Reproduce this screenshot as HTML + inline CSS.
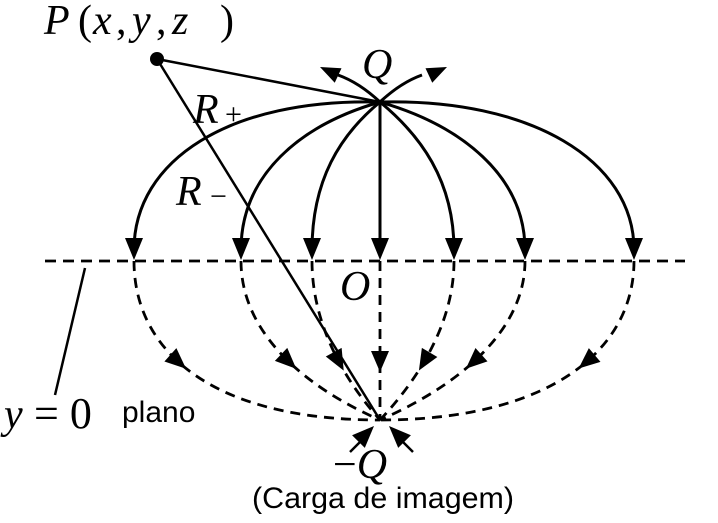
<!DOCTYPE html>
<html><head><meta charset="utf-8"><style>
html,body{margin:0;padding:0;background:#fff;width:718px;height:523px;overflow:hidden}
</style></head><body>
<svg id="s" width="718" height="523" viewBox="0 0 718 523" xmlns="http://www.w3.org/2000/svg">
<g fill="none" stroke="#000" stroke-width="3">
<line x1="45" y1="261" x2="685" y2="261" stroke-dasharray="11,7" stroke-width="2.8"/>
<path d="M380,102 C230,98 134,160 134,250"/>
<path d="M380,102 C300,125 241,175 241,250"/>
<path d="M380,102 C340,135 312,180 312,250"/>
<path d="M380,102 L380,250"/>
<path d="M380,102 C420,135 454,180 454,250"/>
<path d="M380,102 C460,125 525,175 525,250"/>
<path d="M380,102 C530,98 634,160 634,250"/>
<path d="M380,102 C365,88 352,80 338,75"/>
<path d="M380,102 C395,88 408,80 422,75"/>
</g>
<g id="dash" fill="none" stroke="#000" stroke-width="2.8" stroke-dasharray="10,7">
<path d="M134,261 C134,350 210,420 380,420"/>
<path d="M241,261 C241,330 300,385 380,420"/>
<path d="M312,261 C312,320 340,375 380,420"/>
<path d="M380,261 L380,420"/>
<path d="M454,261 C454,320 422,375 380,420"/>
<path d="M525,261 C525,330 460,385 380,420"/>
<path d="M634,261 C634,350 550,420 380,420"/>
</g>
<g fill="#000">
<polygon points="125,238 143,238 134,260"/>
<polygon points="232,238 250,238 241,260"/>
<polygon points="303,238 321,238 312,260"/>
<polygon points="371,238 389,238 380,260"/>
<polygon points="445,238 463,238 454,260"/>
<polygon points="516,238 534,238 525,260"/>
<polygon points="625,238 643,238 634,260"/>
<polygon points="0,0 20,-8 20,8" transform="translate(320,67) rotate(25)"/>
<polygon points="0,0 -20,-8 -20,8" transform="translate(447,67) rotate(-25)"/>
</g>
<g fill="none" stroke="#000" stroke-width="2.5">
<line x1="157" y1="59" x2="380" y2="102"/>
<line x1="157" y1="59" x2="380" y2="420"/>
<line x1="85" y1="268" x2="55" y2="395"/>
<line x1="350" y1="452" x2="362" y2="440"/>
<line x1="413" y1="452" x2="401" y2="440"/>
</g>
<g fill="#000">
<circle cx="157" cy="59" r="7"/>
<polygon points="0,0 22,-9 22,9" transform="translate(374,426) rotate(135)"/>
<polygon points="0,0 22,-9 22,9" transform="translate(389,426) rotate(45)"/>
</g>
<g font-family="Liberation Serif, serif" font-style="italic" font-size="42" fill="#000">
<text x="44" y="34">P</text>
<text x="78" y="34" font-style="normal">(</text>
<text x="93" y="34">x</text><text x="116" y="34" font-style="normal">,</text>
<text x="132" y="34">y</text><text x="156" y="34" font-style="normal">,</text>
<text x="172" y="34">z</text>
<text x="220" y="34" font-style="normal">)</text>
<text x="362" y="78">Q</text>
<text x="193" y="123">R</text><text x="225" y="124" font-style="normal" font-size="30">+</text>
<text x="176" y="205">R</text><text x="210" y="206" font-style="normal" font-size="30">−</text>
<text x="340" y="300">O</text>
<text x="4" y="428">y</text>
<text x="34" y="428" font-style="normal" font-size="44">= 0</text>
<text x="333" y="478"><tspan font-style="normal">−</tspan>Q</text>
</g>
<g font-family="Liberation Sans, sans-serif" font-size="30" fill="#000">
<text x="122" y="422">plano</text>
<text x="252" y="508" textLength="262" lengthAdjust="spacingAndGlyphs">(Carga de imagem)</text>
</g>
<g id="arr" fill="#000"></g>
</svg>
<script>
(function(){
var paths=document.querySelectorAll('#dash path');var g=document.getElementById('arr');
paths.forEach(function(p){
var L=p.getTotalLength(),best=0,bd=1e9;
for(var l=0;l<=L;l+=0.5){var q=p.getPointAtLength(l);var d=Math.abs(q.y-362);if(d<bd){bd=d;best=l;}}
var a=p.getPointAtLength(best),b=p.getPointAtLength(Math.min(L,best+2));
var ang=Math.atan2(b.y-a.y,b.x-a.x)*180/Math.PI;
var t=document.createElementNS('http://www.w3.org/2000/svg','polygon');
t.setAttribute('points','10,0 -11,-9 -11,9');
t.setAttribute('transform','translate('+a.x+','+a.y+') rotate('+ang+')');
g.appendChild(t);
});
})();
</script>
</body></html>
